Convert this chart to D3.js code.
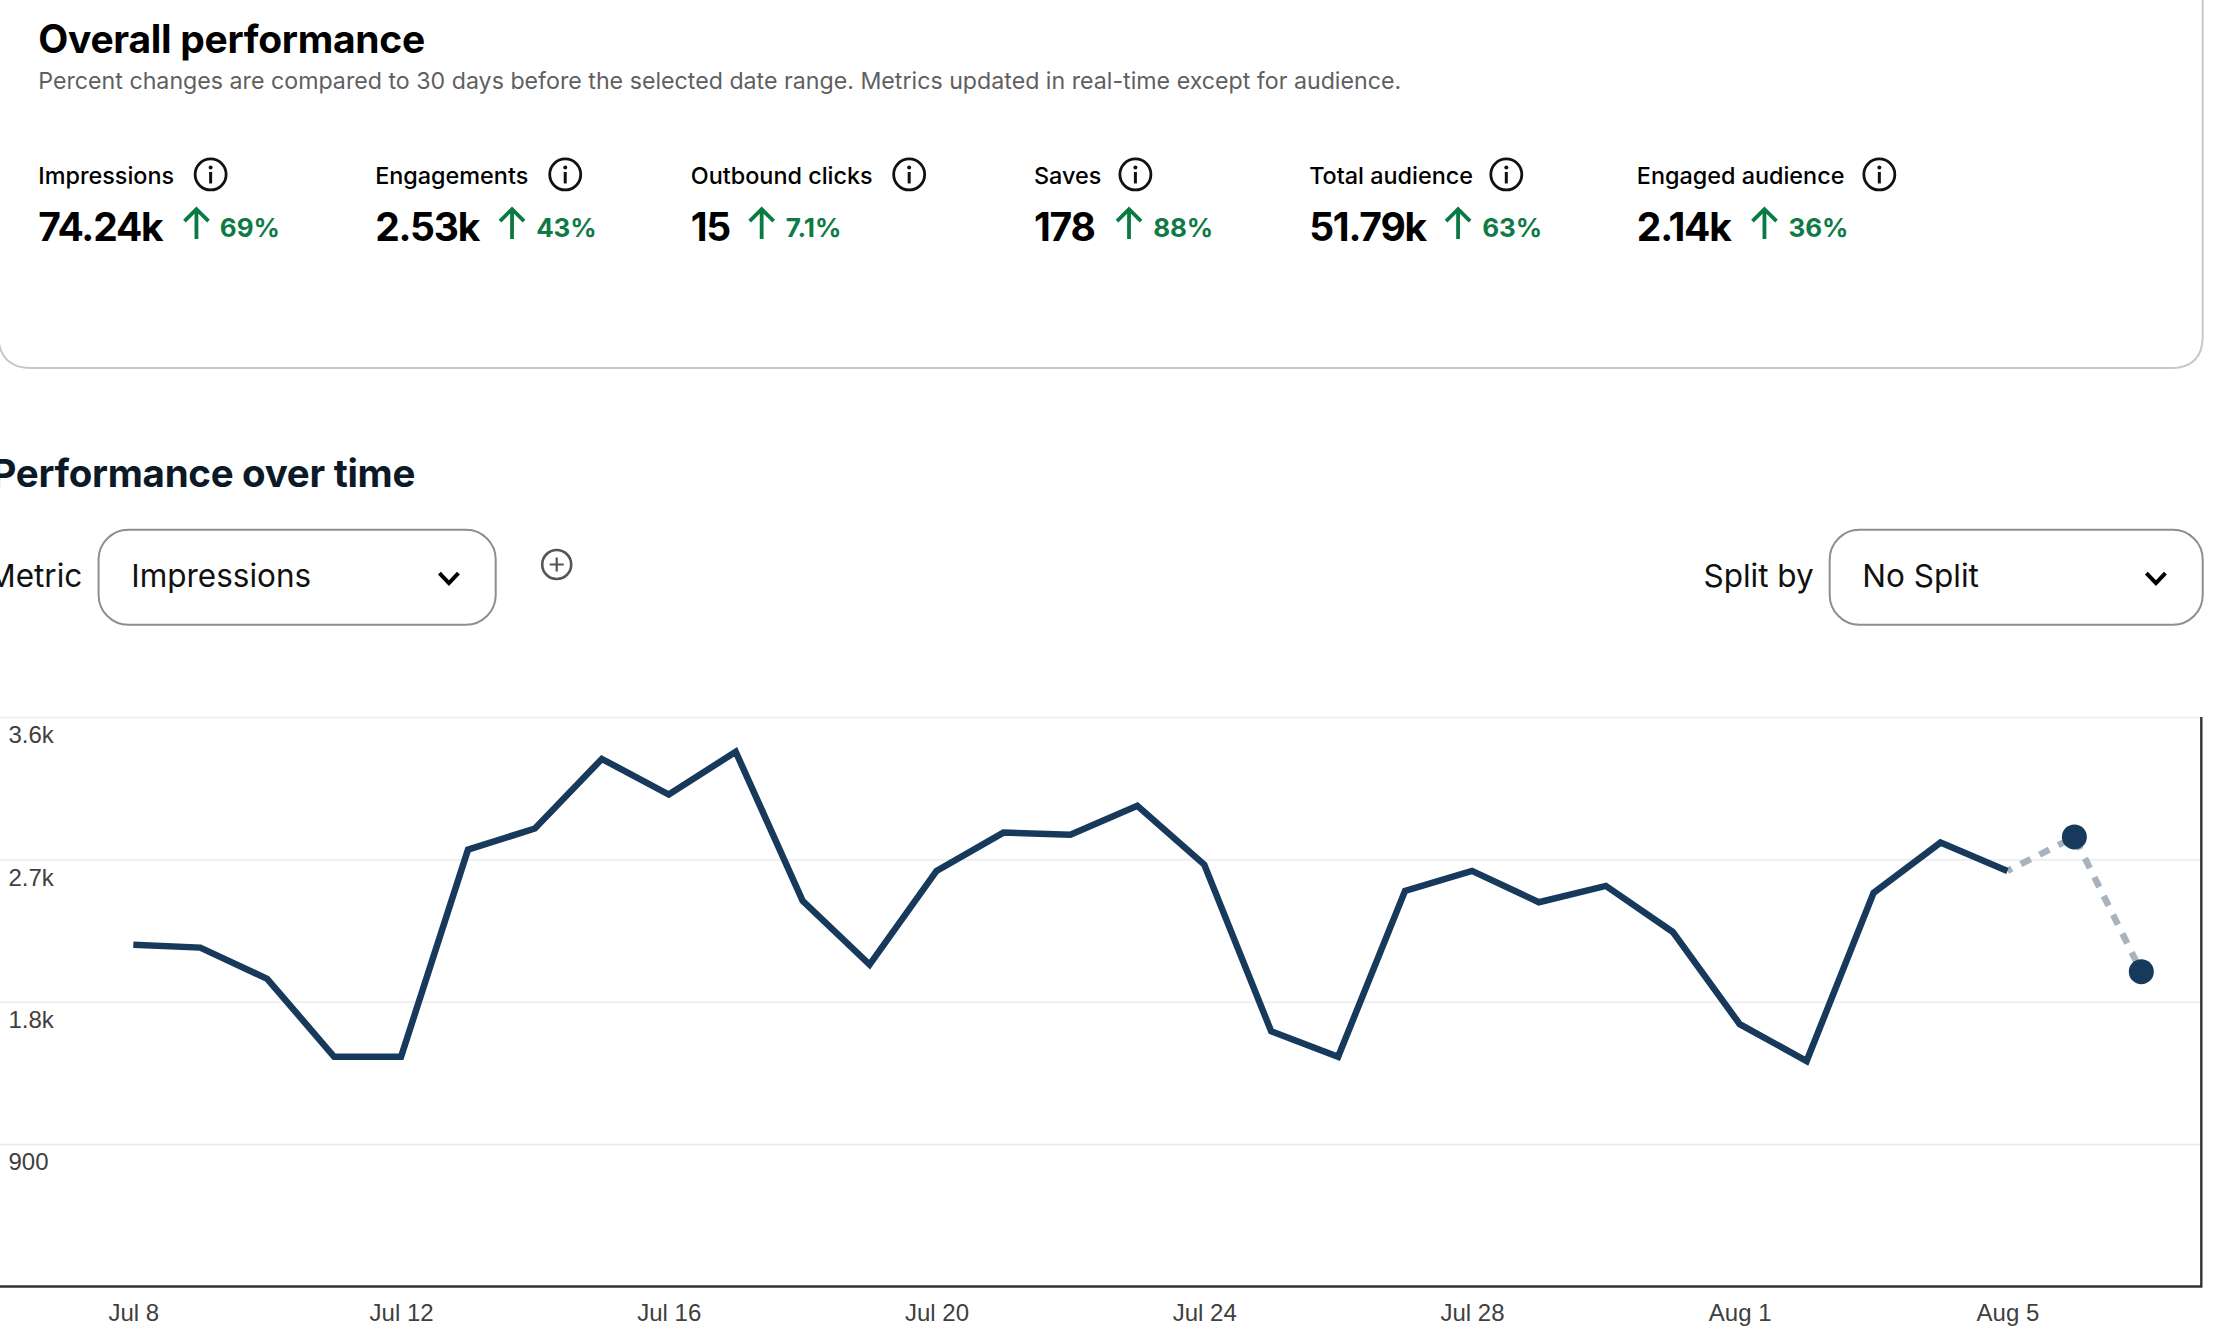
<!DOCTYPE html>
<html><head><meta charset="utf-8">
<script src="https://cdn.jsdelivr.net/npm/d3@7"></script>
<style>
html,body{margin:0;padding:0;background:#fff;overflow:hidden}
svg{display:block}
</style></head><body>
<svg id="c" width="2224" height="1341"></svg>
<script>
const dates = ["2024-07-08","2024-07-09","2024-07-10","2024-07-11","2024-07-12","2024-07-13","2024-07-14","2024-07-15","2024-07-16","2024-07-17","2024-07-18","2024-07-19","2024-07-20","2024-07-21","2024-07-22","2024-07-23","2024-07-24","2024-07-25","2024-07-26","2024-07-27","2024-07-28","2024-07-29","2024-07-30","2024-07-31","2024-08-01","2024-08-02","2024-08-03","2024-08-04","2024-08-05","2024-08-06","2024-08-07"];
const impressions = [2160,2142,1945,1452,1452,2761,2895,3335,3110,3380,2438,2035,2627,2869,2855,3039,2667,1613,1452,2501,2627,2429,2532,2241,1658,1425,2488,2806,2627,2842,1990];
const yTicks = [900,1800,2700,3600];
const yTickLabels = ["900","1.8k","2.7k","3.6k"];
const xTickDates = ["2024-07-08","2024-07-12","2024-07-16","2024-07-20","2024-07-24","2024-07-28","2024-08-01","2024-08-05"];
const solidCount = 29;
const metricNames = ["Impressions","Engagements","Outbound clicks","Saves","Total audience","Engaged audience"];
const metricValues = ["74.24k","2.53k","15","178","51.79k","2.14k"];
const metricChanges = ["69%","43%","7.1%","88%","63%","36%"];

const K = 2224/1568;
const svg = d3.select("#c");
const sans = "Inter, 'Noto Sans', sans-serif";
const armo = "'Liberation Sans', Arial, sans-serif";
const parse = d3.utcParse("%Y-%m-%d");
const data = dates.map((d,i)=>({date:parse(d),v:impressions[i]}));

// Card
svg.append("path")
  .attr("d",`M-2 ${K*237} Q0 ${K*259.5} ${K*22} ${K*259.5} L${K*1530} ${K*259.5} Q${K*1553} ${K*259.5} ${K*1553} ${K*237} L${K*1553} -2`)
  .attr("fill","none").attr("stroke","#c8c8c4").attr("stroke-width",2);

function txt(x,y,s,size,weight,fill,family,anchor,ls){
  return svg.append("text").attr("x",x).attr("y",y).text(s)
    .attr("font-size",size).attr("font-weight",weight).attr("fill",fill)
    .attr("font-family",family||sans).attr("text-anchor",anchor||"start")
    .attr("letter-spacing",ls||0);
}
txt(K*27,K*37.5,"Overall performance",39,700,"#000",null,null,-0.3);
txt(K*27,K*62.5,"Percent changes are compared to 30 days before the selected date range. Metrics updated in real-time except for audience.",23.2,400,"#5f5f5f");

const metricXs = [27,264.5,487,729,923,1154].map(d=>d*K);
const infoXs = [148.5,398.5,641,800.5,1062,1325].map(d=>d*K);
const arrowXs = [138.5,361,537,796,1028,1244].map(d=>d*K);
const deltaXs = [155,378,554,813,1045,1261].map(d=>d*K);
metricNames.forEach((n,i)=>{
  txt(metricXs[i],K*129.5,n,23.4,500,"#000");
  const ig = svg.append("g").attr("transform",`translate(${infoXs[i]},${K*123})`);
  ig.append("circle").attr("r",15.5).attr("fill","none").attr("stroke","#111").attr("stroke-width",2.8);
  ig.append("circle").attr("cy",-7).attr("r",2).attr("fill","#111");
  ig.append("rect").attr("x",-1.5).attr("y",-2.5).attr("width",3).attr("height",11.5).attr("fill","#111");
  txt(metricXs[i],K*170,metricValues[i],39,700,"#000",null,null,-1.2);
  const ag = svg.append("g").attr("transform",`translate(${arrowXs[i]},${K*158})`).attr("fill","none").attr("stroke","#0a7a43").attr("stroke-width",3.8);
  ag.append("path").attr("d","M0 15 L0 -15 M-12 -3 L0 -15 L12 -3");
  txt(deltaXs[i],K*167,metricChanges[i],26,700,"#0f7a45",null,null,-0.1);
});

txt(K*-6,K*343.5,"Performance over time",38.5,700,"#0b1a26",null,null,-0.3);
txt(K*-9,K*414,"Metric",31.5,400,"#111");
txt(K*1201,K*414,"Split by",31.5,400,"#111");

function dropdown(x0,x1,label){
  svg.append("rect").attr("x",K*x0).attr("y",K*373.5).attr("width",K*(x1-x0)).attr("height",K*67)
    .attr("rx",K*21).attr("fill","#fff").attr("stroke","#8e8e8e").attr("stroke-width",2);
  txt(K*(x0+23),K*414,label,31.5,400,"#111");
  const c = K*(x1-33);
  svg.append("path").attr("d",`M${c-9.5} ${K*404} L${c} ${K*404+10} L${c+9.5} ${K*404}`)
    .attr("fill","none").attr("stroke","#000").attr("stroke-width",4);
}
dropdown(69.5,349.5,"Impressions");
dropdown(1290,1553,"No Split");
const pg = svg.append("g").attr("transform",`translate(${K*392.5},${K*398})`);
pg.append("circle").attr("r",14.5).attr("fill","none").attr("stroke","#555").attr("stroke-width",2.6);
pg.append("path").attr("d","M-7 0 H7 M0 -7 V7").attr("stroke","#555").attr("stroke-width",2.2);

// Chart
const x = d3.scaleUtc().domain([parse("2024-07-08"),parse("2024-08-07")]).range([K*94,K*1509.7]);
const y = d3.scaleLinear().domain([0,3600]).range([K*907,K*505.5]);
const right = K*1552;

const gridG = svg.append("g").call(d3.axisLeft(y).tickValues(yTicks).tickSize(-right).tickFormat(""));
gridG.select(".domain").remove();
gridG.selectAll(".tick line").attr("x1",0).attr("x2",right).attr("stroke","#ececec").attr("stroke-width",1.6);

yTicks.forEach((t,i)=>{
  txt(K*6,y(t)+K*18.5,yTickLabels[i],24,400,"#404040",armo);
});

const axisG = svg.append("g").attr("transform",`translate(0,${y(0)})`)
  .call(d3.axisBottom(x).tickValues(xTickDates.map(parse)).tickSize(0).tickPadding(K*12)
    .tickFormat(d3.utcFormat("%b %-d")));
axisG.select(".domain").remove();
axisG.selectAll("text").attr("font-family",armo).attr("font-size",24).attr("fill","#404040");

svg.append("path").attr("d",`M0 ${y(0)} H${right} V${K*505.5}`)
  .attr("fill","none").attr("stroke","#333").attr("stroke-width",2.4);

const line = d3.line().x(d=>x(d.date)).y(d=>y(d.v));
svg.append("path").datum(data.slice(solidCount-1)).attr("d",line)
  .attr("fill","none").attr("stroke","#a8b3be").attr("stroke-width",6.5)
  .attr("stroke-dasharray","11 10").attr("stroke-dashoffset",-15);
svg.append("path").datum(data.slice(0,solidCount)).attr("d",line)
  .attr("fill","none").attr("stroke","#17395c").attr("stroke-width",6.5).attr("stroke-linejoin","miter");
svg.selectAll(".dot").data(data.slice(solidCount)).join("circle").attr("class","dot")
  .attr("cx",d=>x(d.date)).attr("cy",d=>y(d.v)).attr("r",12.5).attr("fill","#17395c");
</script>
</body></html>
